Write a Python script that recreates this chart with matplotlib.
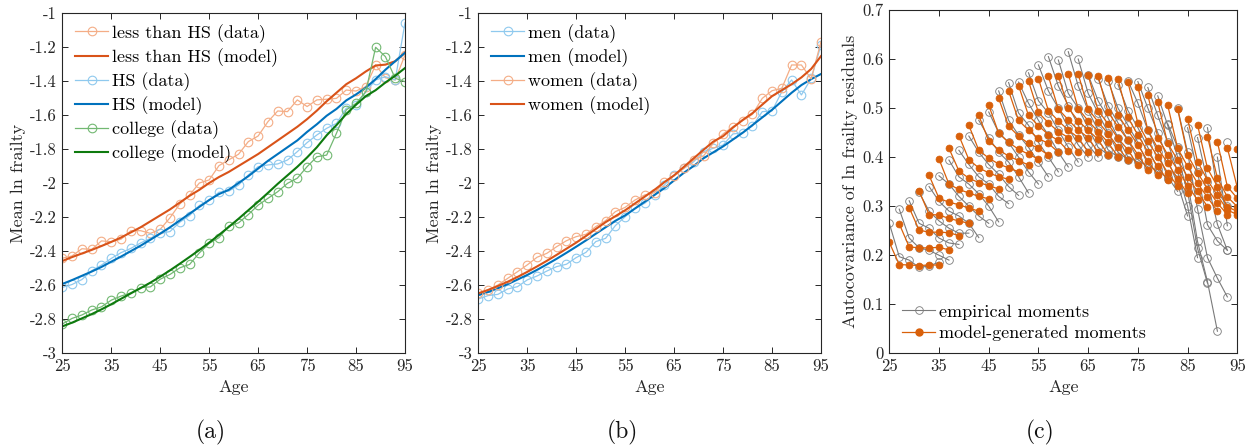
import numpy as np
import matplotlib
matplotlib.use("Agg")
import matplotlib.pyplot as plt
from matplotlib.lines import Line2D

# ---------------- data ----------------
ages = list(range(25, 96, 2))

# panel (a): by education
lhs_data = [-2.442, -2.428, -2.386, -2.390, -2.340, -2.345, -2.330, -2.280, -2.280, -2.296,
            -2.272, -2.204, -2.123, -2.070, -2.000, -1.982, -1.898, -1.864, -1.831, -1.757,
            -1.724, -1.640, -1.577, -1.581, -1.512, -1.551, -1.512, -1.508, -1.503, -1.454,
            -1.460, -1.434, -1.307, -1.382, -1.395, -1.248]
lhs_model = [-2.458, -2.435, -2.414, -2.393, -2.370, -2.346, -2.320, -2.290, -2.260, -2.225,
             -2.190, -2.155, -2.115, -2.075, -2.040, -2.000, -1.965, -1.935, -1.900, -1.865,
             -1.830, -1.790, -1.750, -1.710, -1.670, -1.625, -1.575, -1.520, -1.470, -1.420,
             -1.385, -1.345, -1.310, -1.305, -1.285, -1.235]
hs_data = [-2.613, -2.596, -2.567, -2.515, -2.482, -2.443, -2.409, -2.384, -2.352, -2.325,
           -2.296, -2.285, -2.230, -2.191, -2.132, -2.102, -2.054, -2.048, -2.012, -1.953,
           -1.904, -1.894, -1.888, -1.865, -1.816, -1.763, -1.718, -1.679, -1.650, -1.561,
           -1.542, -1.464, -1.395, -1.376, -1.395, -1.059]
hs_model = [-2.593, -2.570, -2.545, -2.520, -2.493, -2.462, -2.432, -2.400, -2.368, -2.333,
            -2.297, -2.260, -2.220, -2.180, -2.140, -2.100, -2.065, -2.040, -2.000, -1.960,
            -1.915, -1.870, -1.830, -1.790, -1.750, -1.700, -1.655, -1.605, -1.565, -1.515,
            -1.480, -1.440, -1.390, -1.335, -1.285, -1.235]
col_data = [-2.828, -2.795, -2.775, -2.746, -2.727, -2.688, -2.664, -2.645, -2.614, -2.610,
            -2.565, -2.537, -2.498, -2.478, -2.410, -2.355, -2.321, -2.253, -2.234, -2.185,
            -2.130, -2.090, -2.051, -2.002, -1.972, -1.904, -1.846, -1.836, -1.708, -1.571,
            -1.532, -1.464, -1.203, -1.258, -1.385, -1.405]
col_model = [-2.842, -2.820, -2.795, -2.770, -2.742, -2.712, -2.680, -2.648, -2.617, -2.585,
             -2.550, -2.513, -2.474, -2.434, -2.393, -2.350, -2.305, -2.258, -2.210, -2.160,
             -2.110, -2.058, -2.005, -1.955, -1.905, -1.850, -1.790, -1.720, -1.660, -1.595,
             -1.540, -1.490, -1.455, -1.410, -1.370, -1.325]

# panel (b): by sex
men_data = [-2.681, -2.661, -2.654, -2.622, -2.609, -2.569, -2.546, -2.517, -2.491, -2.477,
            -2.438, -2.407, -2.344, -2.325, -2.250, -2.198, -2.149, -2.119, -2.070, -2.012,
            -1.953, -1.914, -1.875, -1.816, -1.796, -1.777, -1.712, -1.705, -1.665, -1.581,
            -1.577, -1.464, -1.395, -1.483, -1.386, -1.190]
men_model = [-2.658, -2.640, -2.618, -2.594, -2.567, -2.540, -2.510, -2.478, -2.445, -2.410,
             -2.374, -2.337, -2.298, -2.260, -2.222, -2.190, -2.150, -2.110, -2.070, -2.030,
             -1.985, -1.940, -1.900, -1.855, -1.820, -1.785, -1.745, -1.705, -1.660, -1.615,
             -1.570, -1.520, -1.470, -1.425, -1.390, -1.360]
women_data = [-2.648, -2.628, -2.599, -2.560, -2.521, -2.481, -2.436, -2.413, -2.374, -2.339,
              -2.315, -2.301, -2.256, -2.221, -2.168, -2.143, -2.100, -2.070, -2.057, -1.996,
              -1.957, -1.914, -1.865, -1.841, -1.767, -1.712, -1.669, -1.634, -1.597, -1.503,
              -1.458, -1.444, -1.307, -1.307, -1.389, -1.170]
women_model = [-2.648, -2.628, -2.605, -2.580, -2.552, -2.522, -2.490, -2.457, -2.422, -2.386,
               -2.350, -2.311, -2.270, -2.230, -2.195, -2.160, -2.120, -2.080, -2.040, -1.995,
               -1.955, -1.905, -1.855, -1.805, -1.757, -1.725, -1.675, -1.630, -1.590, -1.540,
               -1.490, -1.455, -1.420, -1.380, -1.330, -1.255]

# panel (c): autocovariances, band k = lag k (2-year steps), indexed by plotted age 25+2k ... end
model_lag0 = [0.226, 0.264, 0.297, 0.331, 0.363, 0.396, 0.418, 0.444, 0.465, 0.485,
              0.506, 0.520, 0.535, 0.546, 0.555, 0.560, 0.565, 0.566, 0.570, 0.570,
              0.567, 0.566, 0.562, 0.559, 0.553, 0.544, 0.527, 0.512, 0.506, 0.498,
              0.478, 0.466, 0.442, 0.431, 0.419, 0.416]
model_lag1 = [0.181, 0.217, 0.251, 0.283, 0.316, 0.345, 0.372, 0.395, 0.414, 0.433,
              0.449, 0.463, 0.475, 0.485, 0.491, 0.495, 0.498, 0.500, 0.499, 0.498,
              0.495, 0.492, 0.486, 0.481, 0.469, 0.455, 0.440, 0.428, 0.418, 0.404,
              0.391, 0.377, 0.357, 0.340, 0.338]
model_lag2 = [0.180, 0.215, 0.247, 0.282, 0.308, 0.334, 0.357, 0.378, 0.398, 0.415,
              0.430, 0.443, 0.455, 0.464, 0.470, 0.474, 0.476, 0.474, 0.474, 0.472,
              0.468, 0.462, 0.455, 0.445, 0.432, 0.418, 0.405, 0.394, 0.381, 0.368,
              0.353, 0.340, 0.319, 0.316]
model_lag3 = [0.179, 0.215, 0.247, 0.275, 0.303, 0.327, 0.348, 0.368, 0.386, 0.402,
              0.416, 0.428, 0.438, 0.446, 0.452, 0.455, 0.455, 0.455, 0.452, 0.448,
              0.438, 0.435, 0.425, 0.411, 0.401, 0.388, 0.374, 0.360, 0.347, 0.336,
              0.322, 0.299, 0.299]
model_lag4 = [0.180, 0.216, 0.246, 0.270, 0.296, 0.320, 0.342, 0.360, 0.378, 0.393,
              0.406, 0.418, 0.428, 0.434, 0.440, 0.440, 0.440, 0.436, 0.430, 0.420,
              0.415, 0.405, 0.392, 0.381, 0.368, 0.355, 0.342, 0.330, 0.318, 0.306,
              0.292, 0.289]
model_lag5 = [0.180, 0.211, 0.240, 0.265, 0.290, 0.315, 0.335, 0.355, 0.370, 0.384,
              0.396, 0.404, 0.410, 0.412, 0.410, 0.410, 0.410, 0.405, 0.401, 0.394,
              0.383, 0.374, 0.364, 0.353, 0.341, 0.326, 0.313, 0.299, 0.290, 0.283,
              0.283]

emp_lag0 = [0.265, 0.294, 0.311, 0.328, 0.340, 0.362, 0.394, 0.414, 0.443, 0.475,
            0.492, 0.535, 0.552, 0.553, 0.572, 0.588, 0.605, 0.598, 0.615, 0.600,
            0.568, 0.560, 0.556, 0.548, 0.556, 0.554, 0.542, 0.525, 0.468, 0.500,
            0.460, 0.440, 0.460, 0.400, 0.430]
emp_lag1 = [0.197, 0.235, 0.265, 0.290, 0.310, 0.345, 0.360, 0.385, 0.410, 0.440,
            0.450, 0.475, 0.490, 0.510, 0.515, 0.535, 0.545, 0.530, 0.545, 0.530,
            0.515, 0.505, 0.500, 0.495, 0.510, 0.500, 0.485, 0.465, 0.420, 0.410,
            0.370, 0.350, 0.330, 0.260]
emp_lag2 = [0.190, 0.215, 0.255, 0.270, 0.290, 0.320, 0.345, 0.360, 0.385, 0.410,
            0.430, 0.445, 0.465, 0.475, 0.490, 0.500, 0.505, 0.500, 0.495, 0.490,
            0.480, 0.470, 0.465, 0.460, 0.455, 0.450, 0.430, 0.400, 0.350, 0.294,
            0.262, 0.263, 0.300]
emp_lag3 = [0.175, 0.210, 0.235, 0.255, 0.280, 0.300, 0.325, 0.345, 0.365, 0.390,
            0.400, 0.420, 0.430, 0.445, 0.455, 0.460, 0.465, 0.460, 0.455, 0.450,
            0.440, 0.435, 0.430, 0.420, 0.410, 0.395, 0.370, 0.330, 0.228, 0.195,
            0.229, 0.210]
emp_lag4 = [0.178, 0.200, 0.225, 0.245, 0.265, 0.280, 0.300, 0.320, 0.340, 0.360,
            0.370, 0.390, 0.400, 0.410, 0.420, 0.425, 0.425, 0.420, 0.415, 0.410,
            0.400, 0.395, 0.385, 0.375, 0.360, 0.345, 0.300, 0.214, 0.146, 0.153,
            0.210]
emp_lag5 = [0.186, 0.190, 0.222, 0.245, 0.236, 0.265, 0.268, 0.305, 0.322, 0.327,
            0.345, 0.360, 0.370, 0.380, 0.390, 0.400, 0.400, 0.405, 0.400, 0.395,
            0.390, 0.380, 0.370, 0.355, 0.330, 0.280, 0.195, 0.143, 0.045, 0.115]

model_bands = [model_lag0, model_lag1, model_lag2, model_lag3, model_lag4, model_lag5]
emp_bands = [emp_lag0, emp_lag1, emp_lag2, emp_lag3, emp_lag4, emp_lag5]

# ---------------- style ----------------
plt.rcParams['font.family'] = ['cmr10', 'DejaVu Serif']
plt.rcParams['mathtext.fontset'] = 'cm'
plt.rcParams['axes.unicode_minus'] = False
plt.rcParams['axes.formatter.use_mathtext'] = True

AX_COL = '#262626'
ORANGE = '#D95319'
BLUE = '#0072BD'
GREEN = '#0E7A0E'
L_ORANGE = '#F4AD86'
L_BLUE = '#8FC9EE'
L_GREEN = '#72B872'
GREY = '#7A7A7A'
C_ORANGE = '#D9600A'

TICK_FS = 12
LABEL_FS = 13
LEG_FS = 13

W, H = 1251, 448
fig = plt.figure(figsize=(W / 100, H / 100), dpi=100)


def px_axes(x0, x1, y0, y1):
    return fig.add_axes([x0 / W, 1 - y1 / H, (x1 - x0) / W, (y1 - y0) / H])


def style(ax):
    for s in ax.spines.values():
        s.set_color(AX_COL)
        s.set_linewidth(0.8)
    ax.tick_params(direction='in', top=True, right=True, length=4, width=0.7,
                   colors=AX_COL, labelsize=TICK_FS, pad=4)
    ax.set_xlim(25, 95)
    ax.set_xticks([25, 35, 45, 55, 65, 75, 85, 95])
    ax.set_xticklabels([str(v) for v in [25, 35, 45, 55, 65, 75, 85, 95]])
    ax.set_xlabel('Age', fontsize=LABEL_FS, color=AX_COL, labelpad=4)


def fmt(v):
    s = ('%.1f' % v).rstrip('0').rstrip('.')
    return s


leg_kw = dict(frameon=False, fontsize=LEG_FS, handlelength=1.85, handletextpad=0.22,
              labelspacing=0.3, borderaxespad=0.0, borderpad=0.0)

# panel (a)
axa = px_axes(62.3, 405, 12.7, 353.3)
style(axa)
data_kw = dict(lw=0.9, marker='o', ms=6.2, mfc='none', mew=0.8)
axa.plot(ages, lhs_data, color=L_ORANGE, label='less than HS (data)', **data_kw)
axa.plot(ages, lhs_model, color=ORANGE, lw=1.5, label='less than HS (model)')
axa.plot(ages, hs_data, color=L_BLUE, label='HS (data)', **data_kw)
axa.plot(ages, hs_model, color=BLUE, lw=1.5, label='HS (model)')
axa.plot(ages, col_data, color=L_GREEN, label='college (data)', **data_kw)
axa.plot(ages, col_model, color=GREEN, lw=1.5, label='college (model)')
axa.set_ylim(-3, -1)
yt = np.round(np.arange(-3, -0.99, 0.2), 1)
axa.set_yticks(yt)
axa.set_yticklabels([fmt(v) for v in yt])
axa.set_ylabel('Mean ln frailty', fontsize=LABEL_FS, color=AX_COL, labelpad=3)
axa.legend(loc='upper left', bbox_to_anchor=(0.037, 0.967), **leg_kw)

# panel (b)
axb = px_axes(478.3, 821, 12.7, 353.3)
style(axb)
axb.plot(ages, men_data, color=L_BLUE, label='men (data)', **data_kw)
axb.plot(ages, men_model, color=BLUE, lw=1.5, label='men (model)')
axb.plot(ages, women_data, color=L_ORANGE, label='women (data)', **data_kw)
axb.plot(ages, women_model, color=ORANGE, lw=1.5, label='women (model)')
axb.set_ylim(-3, -1)
axb.set_yticks(yt)
axb.set_yticklabels([fmt(v) for v in yt])
axb.set_ylabel('Mean ln frailty', fontsize=LABEL_FS, color=AX_COL, labelpad=3)
axb.legend(loc='upper left', bbox_to_anchor=(0.037, 0.967), **leg_kw)

# panel (c)
axc = px_axes(889.3, 1237.3, 10.0, 353.3)
style(axc)


def chains(bands, last_age):
    out = []
    for a in range(25, last_age + 1, 2):
        xs, ys = [], []
        for k, band in enumerate(bands):
            e = a + 2 * k
            if e > last_age:
                break
            idx = (e - (25 + 2 * k)) // 2
            xs.append(e)
            ys.append(band[idx])
        out.append((xs, ys))
    return out


for xs, ys in chains(emp_bands, 93):
    axc.plot(xs, ys, color=GREY, lw=0.8, marker='o', ms=5.5, mfc='none',
             mec=GREY, mew=0.6)
for xs, ys in chains(model_bands, 95):
    axc.plot(xs, ys, color=C_ORANGE, lw=0.9, marker='o', ms=5.0, mfc=C_ORANGE,
             mec=C_ORANGE, mew=0.5)

axc.set_ylim(0, 0.7)
ytc = np.round(np.arange(0, 0.71, 0.1), 1)
axc.set_yticks(ytc)
axc.set_yticklabels([fmt(v) for v in ytc])
axc.set_ylabel('Autocovariance of ln frailty residuals', fontsize=LABEL_FS, color=AX_COL,
               labelpad=3)
handles = [Line2D([], [], color=GREY, lw=0.8, marker='o', ms=5.5, mfc='none', mec=GREY,
                  mew=0.6),
           Line2D([], [], color=C_ORANGE, lw=0.9, marker='o', ms=5.0, mfc=C_ORANGE,
                  mec=C_ORANGE)]
axc.legend(handles, ['empirical moments', 'model-generated moments'], loc='lower left',
           bbox_to_anchor=(0.036, 0.036), **leg_kw)

# captions
for x, t in [(211, '(a)'), (622, '(b)'), (1040, '(c)')]:
    fig.text(x / W, 1 - 432 / H, t, ha='center', va='center', fontsize=17, color='#111111')

fig.savefig('out.png', dpi=100)
